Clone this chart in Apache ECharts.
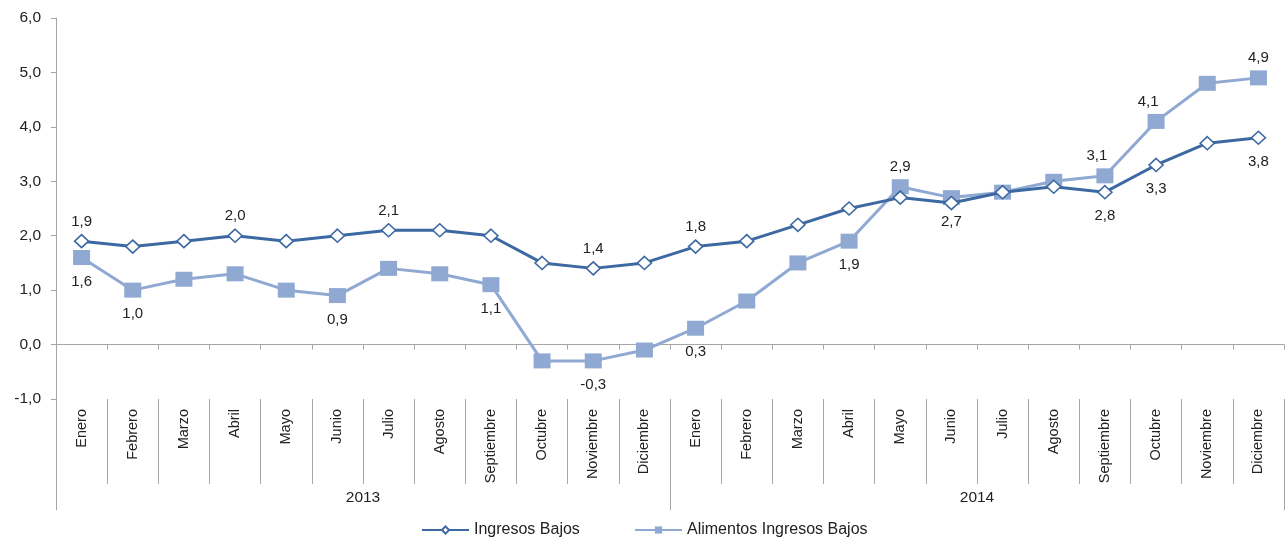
<!DOCTYPE html>
<html><head><meta charset="utf-8">
<script src="https://cdn.jsdelivr.net/npm/echarts@6/dist/echarts.min.js"></script>
<style>html,body{margin:0;padding:0;background:#fff}#c{width:1285px;height:539px}</style>
</head><body><div id="c"></div>
<script>
const months = ['Enero','Febrero','Marzo','Abril','Mayo','Junio','Julio','Agosto','Septiembre','Octubre','Noviembre','Diciembre',
                'Enero','Febrero','Marzo','Abril','Mayo','Junio','Julio','Agosto','Septiembre','Octubre','Noviembre','Diciembre'];
const years = ['2013','2014'];
const ingresosBajos = [1.9,1.8,1.9,2.0,1.9,2.0,2.1,2.1,2.0,1.5,1.4,1.5, 1.8,1.9,2.2,2.5,2.7,2.6,2.8,2.9,2.8,3.3,3.7,3.8];
const alimentosIngresosBajos = [1.6,1.0,1.2,1.3,1.0,0.9,1.4,1.3,1.1,-0.3,-0.3,-0.1, 0.3,0.8,1.5,1.9,2.9,2.7,2.8,3.0,3.1,4.1,4.8,4.9];
const yTicks = [-1,0,1,2,3,4,5,6];

// which points carry a value label and where (style config)
const ingLabelPos = {0:'top',3:'top',6:'top',10:'top',12:'top',20:'bottom',21:'bottom',23:'bottom'};
const aliLabelPos = {0:'bottom',1:'bottom',5:'bottom',8:'bottom',10:'bottom',12:'bottom',15:'bottom',16:'top',17:'bottom',20:'top',21:'top',23:'top'};
const aliLabelOffset = {20:[-8,0],21:[-8,0]};

const fmt = v => v.toFixed(1).replace('.', ',');
const FONT = 'Liberation Sans, Arial, sans-serif';
const DARK = '#3D69A3', LIGHT = '#8FA9D2';

function build(values, posMap, offMap){
  return values.map((v,i)=>{
    const p = posMap[i];
    if(!p) return {value:v};
    return {value:v, label:{show:true, position:p, distance:p==='top'?5:9, offset:(offMap&&offMap[i])||[0,0]}};
  });
}

const legendText = {fontFamily:FONT, fontSize:16, color:'#222'};
const chart = echarts.init(document.getElementById('c'));
chart.setOption({
  animation:false,
  textStyle:{fontFamily:FONT},
  grid:{left:56, right:1, top:18, bottom:140, containLabel:false},
  legend:[
    {top:517, left:416, itemWidth:47, itemHeight:9, textStyle:legendText, data:['Ingresos Bajos']},
    {top:517, left:629, itemWidth:47, itemHeight:9, textStyle:legendText, data:['Alimentos Ingresos Bajos']}
  ],
  xAxis:[
    {type:'category', data:months, boundaryGap:true,
     axisLine:{onZero:true, lineStyle:{color:'#A6A6A6', width:1}},
     axisTick:{show:true, interval:0, length:5, lineStyle:{color:'#A6A6A6'}},
     axisLabel:{show:false}, splitLine:{show:false}},
    {type:'category', data:months, position:'bottom', boundaryGap:true,
     axisLine:{show:false, onZero:false},
     axisTick:{show:true, interval:0, length:85, lineStyle:{color:'#A6A6A6'}},
     axisLabel:{interval:0, rotate:90, margin:10, fontSize:14.5, color:'#222', fontFamily:FONT},
     splitLine:{show:false}},
    {type:'category', data:years, position:'bottom', boundaryGap:true,
     axisLine:{show:false, onZero:false},
     axisTick:{show:true, interval:0, length:111, lineStyle:{color:'#A6A6A6'}},
     axisLabel:{interval:0, margin:91, fontSize:15.5, color:'#222', fontFamily:FONT},
     splitLine:{show:false}}
  ],
  yAxis:{type:'value', min:-1, max:6, interval:1,
    axisLine:{show:true, lineStyle:{color:'#A6A6A6'}},
    axisTick:{show:true, length:5, lineStyle:{color:'#A6A6A6'}},
    axisLabel:{formatter:fmt, margin:15, fontSize:15.5, color:'#222', fontFamily:FONT},
    splitLine:{show:false}},
  series:[
    {name:'Ingresos Bajos', type:'line', xAxisIndex:0, data:build(ingresosBajos, ingLabelPos),
     symbol:'diamond', symbolSize:[14,13], z:3,
     lineStyle:{color:DARK, width:3},
     itemStyle:{color:'#fff', borderColor:DARK, borderWidth:1.6},
     label:{show:false, formatter:p=>fmt(p.value), fontSize:15, color:'#222', fontFamily:FONT}},
    {name:'Alimentos Ingresos Bajos', type:'line', xAxisIndex:0, data:build(alimentosIngresosBajos, aliLabelPos, aliLabelOffset),
     symbol:'rect', symbolSize:[17,15], z:2,
     lineStyle:{color:LIGHT, width:3},
     itemStyle:{color:LIGHT},
     label:{show:false, formatter:p=>fmt(p.value), fontSize:15, color:'#222', fontFamily:FONT}}
  ]
});
</script></body></html>
